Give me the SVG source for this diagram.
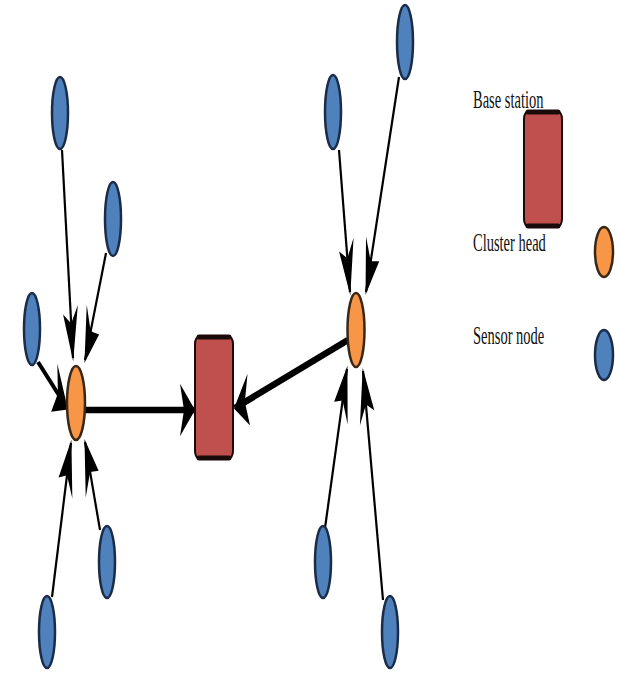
<svg xmlns="http://www.w3.org/2000/svg" width="621" height="675" viewBox="0 0 621 675">
<style>
.sensor{fill:#4f81bd;stroke:#1a2c48;stroke-width:2.5}
.head{fill:#f79646;stroke:#3a2614;stroke-width:2.5}
.bs{fill:#c0504d;stroke:#1a0a0a;stroke-width:2}
.bsedge{fill:none;stroke:#1a0a0a;stroke-width:5;stroke-linecap:round}
.thin{stroke:#000;stroke-width:2.2;fill:none;vector-effect:non-scaling-stroke;marker-end:url(#ah)}
.mid{stroke:#000;stroke-width:4;fill:none;vector-effect:non-scaling-stroke;marker-end:url(#ah)}
.thick{stroke:#000;stroke-width:6.5;fill:none;vector-effect:non-scaling-stroke;marker-end:url(#ah)}
.lbl{font-family:"Liberation Serif","Times New Roman",serif;font-size:14.5px;fill:#111}
</style>
<defs>
<marker id="ah" markerUnits="userSpaceOnUse" markerWidth="15" markerHeight="15" refX="14" refY="7.5" orient="auto" overflow="visible">
<path d="M0,0 L15,7.5 L0,15 L4,7.5 z" fill="#000"/>
</marker>
</defs>
<rect width="621" height="675" fill="#fff"/>
<g id="connectors" transform="scale(1,3.5)">
<line class="thin" x1="62" y1="42.86" x2="73" y2="102.29"/>
<line class="thin" x1="106" y1="72.29" x2="85" y2="102.86"/>
<line class="mid" x1="38" y1="103.43" x2="67" y2="116.57"/>
<line class="thick" x1="85" y1="117.14" x2="194" y2="117.14"/>
<line class="thin" x1="52" y1="170.57" x2="71" y2="126.57"/>
<line class="thin" x1="100" y1="151.43" x2="85" y2="126.29"/>
<line class="thin" x1="339" y1="42.86" x2="350" y2="83.43"/>
<line class="thin" x1="399" y1="22" x2="366" y2="83.43"/>
<line class="thick" x1="348" y1="97.14" x2="235" y2="116.57"/>
<line class="thin" x1="325" y1="150.86" x2="347" y2="105.43"/>
<line class="thin" x1="383" y1="171.43" x2="363" y2="106"/>
</g>
<g id="s1"><ellipse class="sensor" cx="60" cy="113" rx="8" ry="36"/></g>
<g id="s2"><ellipse class="sensor" cx="113" cy="219" rx="8" ry="37"/></g>
<g id="s3"><ellipse class="sensor" cx="32" cy="329" rx="8" ry="36"/></g>
<g id="s4"><ellipse class="sensor" cx="47" cy="632" rx="8" ry="36"/></g>
<g id="s5"><ellipse class="sensor" cx="107" cy="562" rx="8" ry="36"/></g>
<g id="s6"><ellipse class="sensor" cx="323" cy="562" rx="8" ry="36"/></g>
<g id="s7"><ellipse class="sensor" cx="390" cy="632" rx="8" ry="36"/></g>
<g id="s8"><ellipse class="sensor" cx="333" cy="112" rx="8" ry="37"/></g>
<g id="s9"><ellipse class="sensor" cx="405" cy="42" rx="8" ry="37"/></g>
<g id="ch-left"><ellipse class="head" cx="76" cy="403" rx="9" ry="37"/></g>
<g id="ch-right"><ellipse class="head" cx="356" cy="330" rx="8.5" ry="37"/></g>
<g id="base-station">
<rect class="bs" x="195" y="336" width="38" height="123" rx="5" ry="8"/>
<path class="bsedge" d="M199,337 H229 M199,458 H229"/>
</g>
<g id="legend">
<text class="lbl" transform="translate(473,108) scale(1,1.7)">Base station</text>
<g id="legend-bs">
<rect class="bs" x="524" y="111" width="38" height="116" rx="5" ry="8"/>
<path class="bsedge" d="M528,112 H558 M528,226 H558"/>
</g>
<text class="lbl" transform="translate(473,251) scale(1,1.7)">Cluster head</text>
<g id="legend-ch"><ellipse class="head" cx="604" cy="252" rx="9" ry="25"/></g>
<text class="lbl" transform="translate(473,344) scale(1,1.7)">Sensor node</text>
<g id="legend-sn"><ellipse class="sensor" cx="604" cy="355" rx="9" ry="25"/></g>
</g>
</svg>
